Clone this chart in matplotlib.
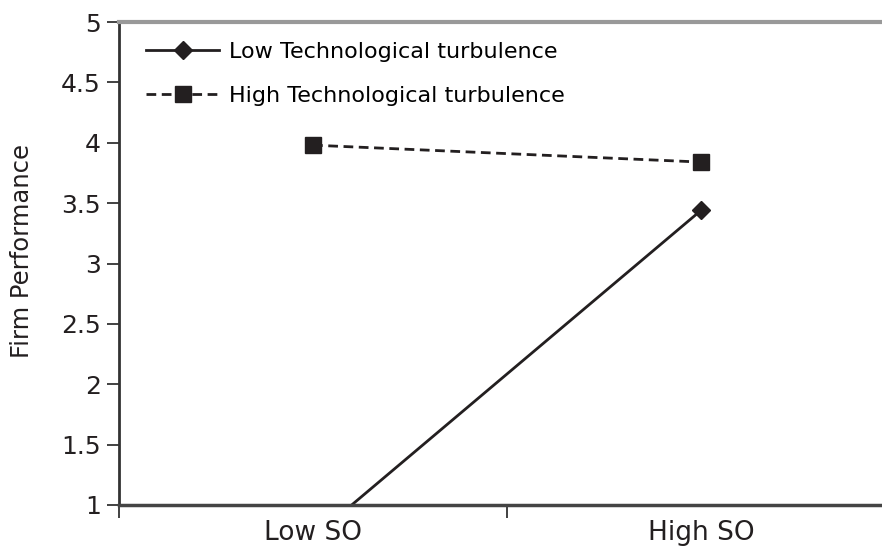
import matplotlib
matplotlib.use("Agg")
import matplotlib.pyplot as plt

categories = ["Low SO", "High SO"]
low_turb = [0.73, 3.44]
high_turb = [3.98, 3.84]
series_labels = ["Low Technological turbulence", "High Technological turbulence"]
yticks = [1, 1.5, 2, 2.5, 3, 3.5, 4, 4.5, 5]
ytick_labels = ["1", "1.5", "2", "2.5", "3", "3.5", "4", "4.5", "5"]

plt.rcParams['font.family'] = ['DejaVu Sans']
ink = "#231f20"

fig = plt.figure(figsize=(8.82, 5.52), dpi=100)
ax = fig.add_axes([119/882, 1-505/552, 776/882, 483/552])

xpos = [0.5, 1.5]
ax.plot(xpos, low_turb, color=ink, lw=2, marker='D', ms=9, mfc=ink, mec=ink,
        label=series_labels[0])
ax.plot(xpos, high_turb, color=ink, lw=2, ls=(0, (3.5, 2)), marker='s', ms=12,
        mfc=ink, mec=ink, label=series_labels[1])

ax.set_xlim(0, 2)
ax.set_ylim(1, 5)
ax.set_yticks(yticks)
ax.set_yticklabels(ytick_labels, fontsize=18, color="#231f20")
ax.set_xticks([0, 1, 2])
ax.set_xticklabels([])
ax.set_xticks(xpos, minor=True)
ax.set_xticklabels(categories, minor=True, fontsize=19, color="#231f20")
ax.tick_params(axis='x', which='minor', length=0, pad=10.5)
ax.tick_params(axis='x', which='major', length=9, width=1.3, color="#333333")
ax.tick_params(axis='y', length=9, width=1.3, color="#333333", pad=4)

ax.set_ylabel("Firm Performance", fontsize=17.5, color="#231f20")
ax.yaxis.set_label_coords(-0.110, 0.525)

ax.spines['top'].set_color("#999999")
ax.spines['top'].set_linewidth(3)
ax.spines['right'].set_visible(False)
ax.spines['left'].set_color("#333333")
ax.spines['left'].set_linewidth(2)
ax.spines['bottom'].set_color("#444444")
ax.spines['bottom'].set_linewidth(2.5)

leg = ax.legend(loc='upper left', bbox_to_anchor=(0.0235, 0.977), frameon=False,
                fontsize=16, numpoints=1, handlelength=3.3, handletextpad=0.45,
                labelspacing=1.07, borderaxespad=0)

fig.savefig("out.png", dpi=100)
